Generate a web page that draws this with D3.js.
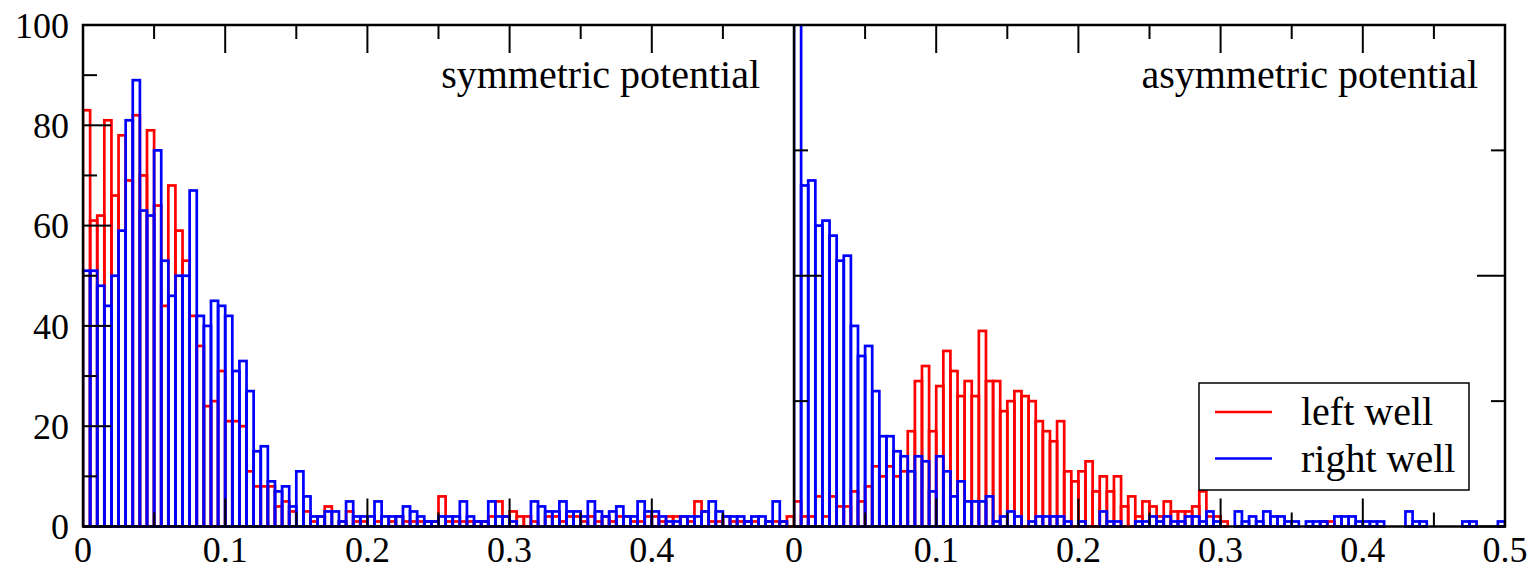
<!DOCTYPE html>
<html>
<head>
<meta charset="utf-8">
<script src="https://cdn.jsdelivr.net/npm/d3@7"></script>
<style>
  body { margin: 0; background: #fff; }
  text { font-family: "Liberation Serif", "DejaVu Serif", serif; fill: #000; }
</style>
</head>
<body>
<svg id="chart" width="1535" height="570"></svg>
<script>
// histogram bin width (each panel has 100 bins from 0 to 0.5)
var binWidth = 0.005;

// symmetric potential (left panel)
var symLeftWell = [
  83, 61, 62, 81, 66, 78, 69, 82, 70, 79,
  64, 44, 68, 59, 53, 42, 36, 24, 25, 31,
  21, 21, 20, 11, 8, 8, 8, 4, 5, 3,
  0, 3, 1, 2, 4, 0, 1, 3, 1, 1,
  0, 1, 0, 1, 2, 1, 1, 1, 1, 1,
  6, 1, 1, 1, 1, 1, 1, 2, 5, 2,
  3, 2, 2, 1, 0, 2, 2, 1, 2, 2,
  1, 2, 1, 2, 1, 2, 2, 1, 1, 2,
  2, 1, 2, 2, 2, 1, 5, 3, 1, 1,
  2, 1, 1, 1, 1, 0, 1, 1, 1, 2
];
var symRightWell = [
  51, 51, 48, 44, 50, 59, 81, 89, 63, 62,
  75, 53, 46, 50, 50, 67, 42, 40, 45, 44,
  42, 31, 33, 27, 15, 16, 9, 7, 8, 4,
  11, 6, 2, 2, 3, 3, 1, 5, 2, 2,
  2, 5, 2, 2, 2, 4, 3, 2, 1, 1,
  2, 2, 2, 5, 2, 1, 1, 5, 2, 2,
  1, 0, 0, 5, 4, 3, 3, 5, 3, 3,
  2, 5, 3, 2, 3, 4, 2, 2, 5, 3,
  3, 2, 1, 1, 2, 2, 2, 3, 5, 3,
  2, 2, 2, 1, 2, 2, 1, 5, 1, 0
];

// asymmetric potential (right panel)
var asymLeftWell = [
  5, 2, 2, 6, 2, 6, 4, 4, 7, 5,
  8, 12, 10, 12, 10, 11, 19, 29, 32, 19,
  28, 35, 31, 26, 29, 26, 39, 29, 29, 23,
  25, 27, 26, 25, 21, 19, 17, 21, 11, 9,
  11, 13, 7, 10, 7, 10, 4, 6, 2, 5,
  4, 2, 5, 3, 3, 3, 4, 7, 2, 2,
  1, 0, 0, 0, 0, 0, 0, 0, 0, 0,
  0, 0, 0, 0, 1, 1, 0, 0, 0, 0,
  0, 0, 0, 0, 0, 0, 0, 0, 0, 0,
  0, 0, 0, 0, 0, 0, 0, 0, 0, 0
];
var asymRightWell = [
  115, 68, 69, 60, 61, 58, 53, 54, 40, 34,
  36, 27, 18, 18, 15, 14, 11, 14, 13, 7,
  14, 11, 6, 9, 5, 5, 5, 6, 1, 2,
  3, 2, 0, 1, 2, 2, 2, 2, 1, 0,
  1, 0, 0, 3, 1, 1, 0, 0, 1, 1,
  2, 1, 2, 1, 1, 2, 2, 1, 3, 1,
  0, 0, 3, 1, 2, 1, 3, 2, 2, 1,
  1, 0, 1, 1, 1, 0, 2, 2, 2, 1,
  1, 1, 1, 0, 0, 0, 3, 1, 1, 0,
  0, 0, 0, 0, 1, 1, 0, 0, 0, 1
];

var seriesNames = ["left well", "right well"];
var seriesColors = ["#ff0000", "#0000ff"];
var panelTitles = ["symmetric potential", "asymmetric potential"];

var yLabelTicks = [0, 20, 40, 60, 80, 100];
var xLabelsSym = [0, 0.1, 0.2, 0.3, 0.4];
var xLabelsAsym = [0, 0.1, 0.2, 0.3, 0.4, 0.5];
var xMajor = [0, 0.1, 0.2, 0.3, 0.4, 0.5];
var xMinor = [0.05, 0.15, 0.25, 0.35, 0.45];

var svg = d3.select("#chart");

// plot geometry
var plotTop = 25, plotBottom = 526.5;
var x0 = 83, xMid = 794, x1 = 1505;

var y = d3.scaleLinear().domain([0, 100]).range([plotBottom, plotTop]);

var panels = [
  { x: d3.scaleLinear().domain([0, 0.5]).range([x0, xMid]),
    series: [symLeftWell, symRightWell], title: panelTitles[0],
    labels: xLabelsSym, yMajor: [0, 20, 40, 60, 80, 100], yMinor: [10, 30, 50, 70, 90] },
  { x: d3.scaleLinear().domain([0, 0.5]).range([xMid, x1]),
    series: [asymLeftWell, asymRightWell], title: panelTitles[1],
    labels: xLabelsAsym, yMajor: [0, 50, 100], yMinor: [25, 75] }
];

var majorLen = 28, minorLen = 14;

panels.forEach(function(p, pi) {
  var clipId = "clip" + pi;
  svg.append("clipPath").attr("id", clipId)
    .append("rect")
      .attr("x", p.x.range()[0]).attr("y", plotTop)
      .attr("width", p.x.range()[1] - p.x.range()[0])
      .attr("height", plotBottom - plotTop + 4);

  var g = svg.append("g").attr("clip-path", "url(#" + clipId + ")");

  // bars: red first, blue drawn over it
  p.series.forEach(function(vals, si) {
    g.selectAll(".bar" + si)
      .data(vals)
      .enter()
      .append("rect")
        .attr("x", function(d, i) { return p.x(i * binWidth); })
        .attr("y", function(d) { return y(d); })
        .attr("width", function(d, i) { return p.x((i + 1) * binWidth) - p.x(i * binWidth); })
        .attr("height", function(d) { return y(0) - y(d); })
        .attr("fill", "none")
        .attr("stroke", seriesColors[si])
        .attr("stroke-width", 2.7);
  });

  // x ticks, bottom and top, pointing inward
  var ax = svg.append("g");
  [[xMajor, majorLen], [xMinor, minorLen]].forEach(function(t) {
    ax.selectAll(null).data(t[0]).enter().append("line")
      .attr("x1", function(d) { return p.x(d); }).attr("x2", function(d) { return p.x(d); })
      .attr("y1", plotBottom).attr("y2", plotBottom - t[1])
      .attr("stroke", "#000").attr("stroke-width", 2);
    ax.selectAll(null).data(t[0]).enter().append("line")
      .attr("x1", function(d) { return p.x(d); }).attr("x2", function(d) { return p.x(d); })
      .attr("y1", plotTop).attr("y2", plotTop + t[1])
      .attr("stroke", "#000").attr("stroke-width", 2);
  });

  // y ticks, pointing inward
  var xl = p.x.range()[0], xr = p.x.range()[1];
  [[p.yMajor, majorLen], [p.yMinor, minorLen]].forEach(function(t) {
    ax.selectAll(null).data(t[0]).enter().append("line")
      .attr("x1", xl).attr("x2", xl + t[1])
      .attr("y1", function(d) { return y(d); }).attr("y2", function(d) { return y(d); })
      .attr("stroke", "#000").attr("stroke-width", 2);
    if (pi === 1) {
      ax.selectAll(null).data(t[0]).enter().append("line")
        .attr("x1", xr).attr("x2", xr - t[1])
        .attr("y1", function(d) { return y(d); }).attr("y2", function(d) { return y(d); })
        .attr("stroke", "#000").attr("stroke-width", 2);
    }
  });

  // x tick labels
  ax.selectAll(null).data(p.labels).enter().append("text")
    .attr("x", function(d) { return p.x(d); })
    .attr("y", 562)
    .attr("text-anchor", "middle")
    .attr("font-size", 36)
    .text(function(d) { return d === 0 ? "0" : d3.format(".1f")(d); });

  // panel title
  svg.append("text")
    .attr("x", pi === 0 ? 760 : 1478)
    .attr("y", 88)
    .attr("text-anchor", "end")
    .attr("font-size", 40)
    .text(p.title);
});

// y tick labels (left panel only)
svg.append("g").selectAll("text")
  .data(yLabelTicks).enter().append("text")
    .attr("x", 69)
    .attr("y", function(d) { return y(d); })
    .attr("dy", "0.35em")
    .attr("text-anchor", "end")
    .attr("font-size", 36)
    .text(function(d) { return d; });

// frame and divider
svg.append("rect")
  .attr("x", x0).attr("y", plotTop)
  .attr("width", x1 - x0).attr("height", plotBottom - plotTop)
  .attr("fill", "none").attr("stroke", "#000").attr("stroke-width", 2.5);
svg.append("line")
  .attr("x1", xMid).attr("x2", xMid).attr("y1", plotTop).attr("y2", plotBottom)
  .attr("stroke", "#000").attr("stroke-width", 2.5);

// legend
var leg = svg.append("g").attr("transform", "translate(1199,383)");
leg.append("rect")
  .attr("width", 270).attr("height", 107)
  .attr("fill", "#fff").attr("stroke", "#000").attr("stroke-width", 1.5);
seriesNames.forEach(function(name, i) {
  leg.append("line")
    .attr("x1", 16).attr("x2", 73)
    .attr("y1", 29 + i * 46.5).attr("y2", 29 + i * 46.5)
    .attr("stroke", seriesColors[i]).attr("stroke-width", 2.6);
  leg.append("text")
    .attr("x", 102).attr("y", 42 + i * 46.5)
    .attr("font-size", 40)
    .text(name);
});
</script>
</body>
</html>
